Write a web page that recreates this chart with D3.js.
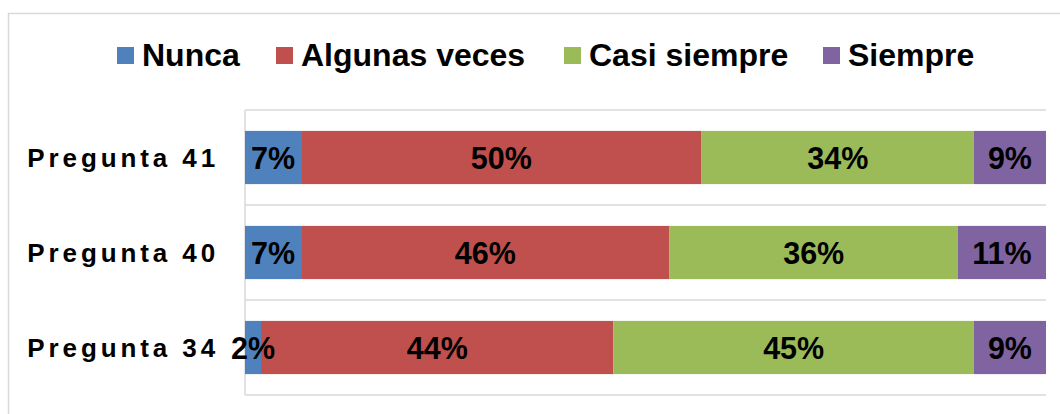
<!DOCTYPE html>
<html lang="es">
<head>
    <meta charset="UTF-8">
    <title>Preguntas</title>
    <script src="https://cdn.jsdelivr.net/npm/d3@7"></script>
    <style>
        body {
            margin: 0;
            background: #fff;
        }
        text {
            font-family: "Liberation Sans", Arial, sans-serif;
            font-weight: bold;
            fill: #000;
        }
    </style>
</head>
<body>
<script>
    const width  = 1060;
    const height = 414;

    // categories, top to bottom
    const preguntas = ["Pregunta 41", "Pregunta 40", "Pregunta 34"];
    const series    = ["Nunca", "Algunas veces", "Casi siempre", "Siempre"];
    const colors    = ["#4f81bd", "#c0504d", "#9bbb59", "#8064a2"];

    // percentages per question (same order as preguntas)
    const nunca        = [7, 7, 2];
    const algunasVeces = [50, 46, 44];
    const casiSiempre  = [34, 36, 45];
    const siempre      = [9, 11, 9];

    const rows = preguntas.map((p, i) => ({
        pregunta: p,
        "Nunca": nunca[i],
        "Algunas veces": algunasVeces[i],
        "Casi siempre": casiSiempre[i],
        "Siempre": siempre[i]
    }));

    const plot = {left: 245, right: 1046, top: 110, bottom: 395};

    const svg = d3.select("body").append("svg")
        .attr("width", width)
        .attr("height", height);

    // outer chart frame
    svg.append("rect")
        .attr("x", 8.5).attr("y", 13.5)
        .attr("width", width).attr("height", height)
        .attr("fill", "none")
        .attr("stroke", "#d9d9d9")
        .attr("stroke-width", 1.5);

    const x = d3.scaleLinear()
        .domain([0, 100])
        .range([plot.left, plot.right]);

    const y = d3.scaleBand()
        .domain(preguntas)
        .range([plot.top, plot.bottom])
        .paddingInner(0.44)
        .paddingOuter(0.22);

    const color = d3.scaleOrdinal().domain(series).range(colors);

    // category separators (horizontal lines between bands)
    const sepY = d3.range(preguntas.length + 1).map(i => plot.top + i * (plot.bottom - plot.top) / preguntas.length);
    svg.append("g")
        .selectAll("line")
        .data(sepY)
        .join("line")
          .attr("x1", plot.left).attr("x2", plot.right)
          .attr("y1", d => d).attr("y2", d => d)
          .attr("stroke", "#d9d9d9")
          .attr("stroke-width", 1.5);

    svg.append("line")
        .attr("x1", plot.left).attr("x2", plot.left)
        .attr("y1", plot.top).attr("y2", plot.bottom)
        .attr("stroke", "#d9d9d9")
        .attr("stroke-width", 1.5);

    const stacked = d3.stack().keys(series)(rows);

    const layers = svg.append("g")
        .selectAll("g")
        .data(stacked)
        .join("g")
          .attr("fill", d => color(d.key));

    layers.selectAll("rect")
        .data(d => d)
        .join("rect")
          .attr("x", d => x(d[0]))
          .attr("width", d => x(d[1]) - x(d[0]))
          .attr("y", d => y(d.data.pregunta))
          .attr("height", y.bandwidth());

    // value labels centred in each segment
    svg.append("g")
        .selectAll("g")
        .data(stacked)
        .join("g")
        .selectAll("text")
        .data(d => d)
        .join("text")
          .attr("x", d => x((d[0] + d[1]) / 2))
          .attr("y", d => y(d.data.pregunta) + y.bandwidth() / 2 + 11)
          .attr("text-anchor", "middle")
          .style("font-size", "30.5px")
          .text(d => (d[1] - d[0]) + "%");

    // category labels
    svg.append("g")
        .selectAll("text")
        .data(preguntas)
        .join("text")
          .attr("x", 219)
          .attr("y", d => y(d) + y.bandwidth() / 2 + 9.5)
          .attr("text-anchor", "end")
          .style("font-size", "26px")
          .style("letter-spacing", "3.9px")
          .text(d => d);

    // legend
    const legendX = [117, 276, 564, 823];
    const legend = svg.append("g")
        .selectAll("g")
        .data(series)
        .join("g")
          .attr("transform", (d, i) => `translate(${legendX[i]},47)`);

    legend.append("rect")
        .attr("width", 17).attr("height", 17)
        .attr("fill", d => color(d));

    legend.append("text")
        .attr("x", 25)
        .attr("y", 19)
        .style("font-size", "32px")
        .text(d => d);
</script>
</body>
</html>
